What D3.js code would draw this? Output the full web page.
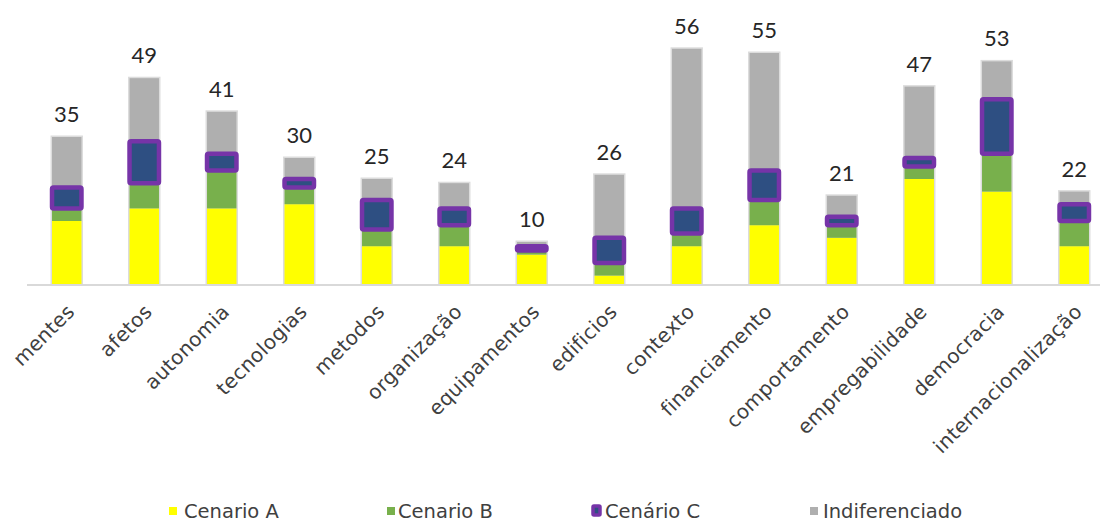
<!DOCTYPE html>
<html>
<head>
<meta charset="utf-8">
<script src="https://cdn.jsdelivr.net/npm/d3@7"></script>
<style>
  html, body { margin: 0; padding: 0; background: #ffffff; }
  svg { display: block; }
</style>
</head>
<body>
<svg id="chart" width="1100" height="522"></svg>
<script>
const categories = ["mentes","afetos","autonomia","tecnologias","metodos","organização","equipamentos","edificios","contexto","financiamento","comportamento","empregabilidade","democracia","internacionalização"];
const cenarioA = [15,18,18,19,9,9,7,2,9,14,11,25,22,9];
const cenarioB = [3,6,9,4,4,5,1,3,3,6,3,3,9,6];
const cenarioC = [5,10,4,2,7,4,1,6,6,7,2,2,13,4];
const indiferenciado = [12,15,10,5,5,6,1,15,38,28,5,17,9,3];
const seriesNames = ["Cenario A","Cenario B","Cenário C","Indiferenciado"];

const svg = d3.select("#chart");
const baseY = 284;
const x = d3.scaleBand().domain(categories).range([28, 1113]).paddingInner(0.62).paddingOuter(0.31);
const y = d3.scaleLinear().domain([0, 60]).range([baseY, baseY - 60 * 4.2]);

const rows = categories.map((c, i) => ({
  cat: c, A: cenarioA[i], B: cenarioB[i], C: cenarioC[i], I: indiferenciado[i]
}));
const keys = ["A","B","C","I"];
const stack = d3.stack().keys(keys)(rows);
const colors = { A: "#FFFF00", B: "#78B04C", C: "#2E4F82", I: "#AFAFAF" };

// glow / outline behind bars
svg.append("g").selectAll("rect").data(rows).join("rect")
  .attr("x", d => x(d.cat) - 1.5)
  .attr("width", x.bandwidth() + 3)
  .attr("y", d => y(d.A + d.B + d.C + d.I) - 1.5)
  .attr("height", d => baseY - y(d.A + d.B + d.C + d.I) + 1.5)
  .attr("fill", "#dcdcdc");

// axis line
svg.append("line").attr("x1", 27).attr("x2", 1100).attr("y1", baseY + 1).attr("y2", baseY + 1)
  .attr("stroke", "#d9d9d9").attr("stroke-width", 2);

// non-C segments
const segG = svg.append("g");
stack.forEach(layer => {
  if (layer.key === "C") return;
  segG.append("g").selectAll("rect").data(layer).join("rect")
    .attr("x", d => x(d.data.cat))
    .attr("width", x.bandwidth())
    .attr("y", d => y(d[1]))
    .attr("height", d => y(d[0]) - y(d[1]))
    .attr("fill", colors[layer.key]);
});
// C segments on top with purple border
const layerC = stack.find(l => l.key === "C");
svg.append("g").selectAll("rect").data(layerC).join("rect")
  .attr("x", d => x(d.data.cat))
  .attr("width", x.bandwidth())
  .attr("y", d => y(d[1]))
  .attr("height", d => y(d[0]) - y(d[1]))
  .attr("rx", 1.5)
  .attr("fill", colors.C)
  .attr("stroke", "#7634A8")
  .attr("stroke-width", 4.5)
  .attr("stroke-linejoin", "round");

// total labels
svg.append("g").selectAll("text").data(rows).join("text")
  .attr("x", d => x(d.cat) + x.bandwidth() / 2)
  .attr("y", d => y(d.A + d.B + d.C + d.I) - 15)
  .attr("text-anchor", "middle")
  .attr("font-family", "Lato, 'Open Sans', sans-serif")
  .attr("font-size", 22)
  .attr("fill", "#262626")
  .text(d => d.A + d.B + d.C + d.I);

// x labels
svg.append("g").selectAll("text").data(categories).join("text")
  .attr("transform", d => `translate(${x(d) + x.bandwidth() / 2 + 9},313) rotate(-45)`)
  .attr("text-anchor", "end")
  .attr("font-family", "'DejaVu Sans', sans-serif")
  .attr("font-size", 20)
  .attr("letter-spacing", 0.3)
  .attr("fill", "#404040")
  .text(d => d);

// legend
const legendItems = [
  { name: seriesNames[0], key: "A", sx: 169, tx: 184 },
  { name: seriesNames[1], key: "B", sx: 387, tx: 398 },
  { name: seriesNames[2], key: "C", sx: 591, tx: 605 },
  { name: seriesNames[3], key: "I", sx: 810, tx: 823 }
];
const lg = svg.append("g");
legendItems.forEach(it => {
  if (it.key === "C") {
    lg.append("rect").attr("x", it.sx + 2).attr("y", 506).attr("width", 7).attr("height", 9)
      .attr("fill", colors.C).attr("stroke", "#7634A8").attr("stroke-width", 3.5).attr("rx", 1);
  } else {
    lg.append("rect").attr("x", it.sx).attr("y", 507).attr("width", 8).attr("height", 8)
      .attr("fill", colors[it.key]);
  }
  lg.append("text").attr("x", it.tx).attr("y", 518)
    .attr("font-family", "'DejaVu Sans', sans-serif")
    .attr("font-size", 19.5)
    .attr("fill", "#404040")
    .text(it.name);
});
</script>
</body>
</html>
